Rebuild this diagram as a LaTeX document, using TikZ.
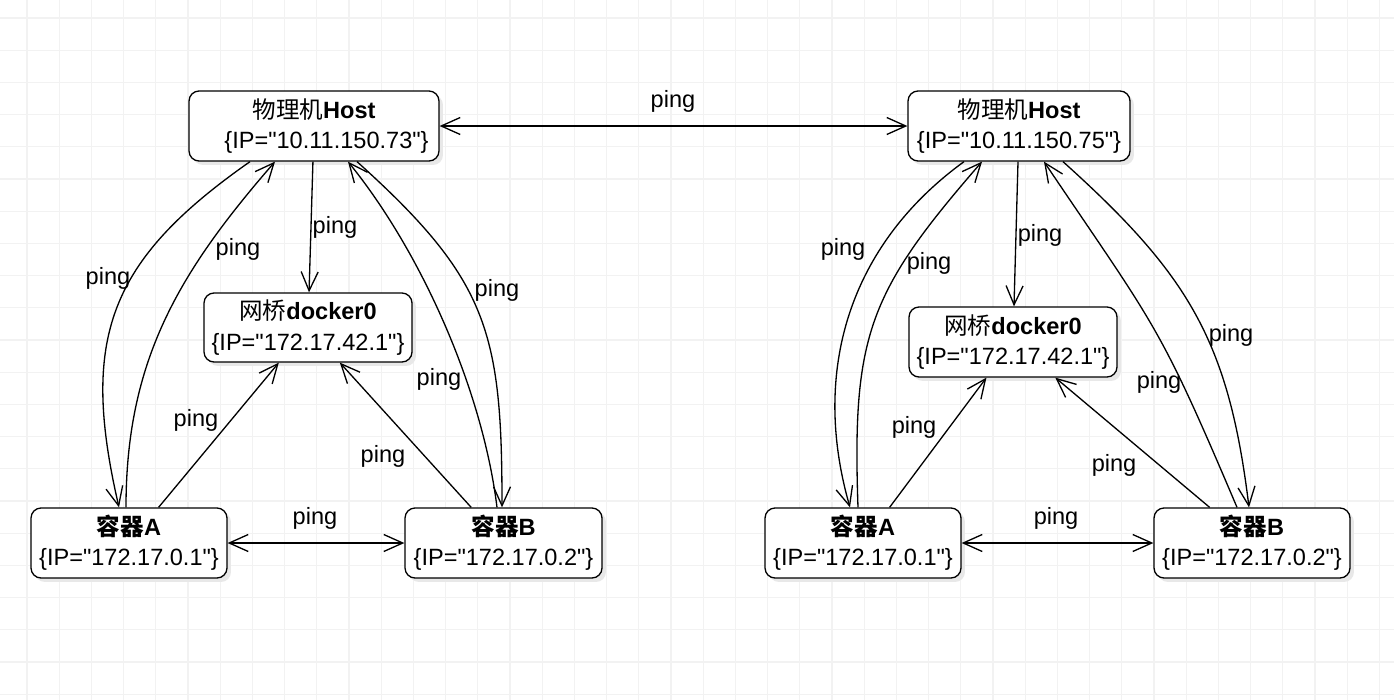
\documentclass[tikz,border=0pt]{standalone}
\usepackage{fontspec}
\setmainfont{Liberation Sans}[Ligatures=TeXOff]
\newfontfamily\cjk{Noto Sans CJK SC}
\usetikzlibrary{arrows.meta,shadows,calc}

\tikzset{
  box/.style={draw, rounded corners=0.2cm, fill=white, align=center, inner sep=0pt,
    minimum height=1.4cm, font=\fontsize{13.4pt}{17.2pt}\selectfont,
    drop shadow={shadow xshift=0.08cm, shadow yshift=-0.08cm, opacity=1, fill=black!9, draw=none}},
  lbl/.style={inner sep=0pt, font=\fontsize{13.4pt}{16.8pt}\selectfont},
  gridline/.style={draw=black!5, line width=0.6pt},
}

\begin{document}
\begin{tikzpicture}
  [x=0.02cm,y=0.02cm,line width=0.75pt,>={Straight Barb[length=0.38cm,width=0.34cm]}]

  \fill[white] (0,0) rectangle (1394,-700);
  \useasboundingbox (0,0) rectangle (1394,-700);
  \foreach \i in {1,...,43}
    \draw[gridline] ({-5.2+32.2*\i},0) -- ({-5.2+32.2*\i},-700);
  \foreach \k in {0,...,21}
    \draw[gridline] (0,{-18-32.2*\k}) -- (1394,{-18-32.2*\k});

  % left host
  \node[box, minimum width=5cm] (hL) at (314,-126) {{\cjk 物理机}\textbf{Host}\\\hspace*{0.5cm}\{IP="10.11.150.73"\}};
  \node[box, minimum width=4.16cm, minimum height=1.38cm] (dL) at (308,-327.5) {{\cjk 网桥}\textbf{docker0}\\\{IP="172.17.42.1"\}};
  \node[box, minimum width=3.92cm] (aL) at (129,-543) {\textbf{\cjk 容器}\textbf{A}\\\{IP="172.17.0.1"\}};
  \node[box, minimum width=3.94cm] (bL) at (503.5,-543) {\textbf{\cjk 容器}\textbf{B}\\\{IP="172.17.0.2"\}};

  % right host
  \node[box, minimum width=4.44cm] (hR) at (1019,-126) {{\cjk 物理机}\textbf{Host}\\\{IP="10.11.150.75"\}};
  \node[box, minimum width=4.16cm] (dR) at (1013,-342) {{\cjk 网桥}\textbf{docker0}\\\{IP="172.17.42.1"\}};
  \node[box, minimum width=3.92cm] (aR) at (863,-543) {\textbf{\cjk 容器}\textbf{A}\\\{IP="172.17.0.1"\}};
  \node[box, minimum width=3.92cm] (bR) at (1252,-543) {\textbf{\cjk 容器}\textbf{B}\\\{IP="172.17.0.2"\}};

  \path[<->] (hL) edge (hR);

  \path[->] (hL) edge (dL);
  \path[->] (aL) edge (dL);
  \path[->] (bL) edge (dL);
  \path[<->] (aL) edge (bL);
  \path[->] ($(hL.south)+(-64,0)$) edge[out=215,in=103,looseness=1.2] ($(aL.north)+(-10,0)$);
  \path[->] ($(aL.north)+(-3,0)$) edge[out=90,in=229] ($(hL.south)+(-39,0)$);
  \path[->] ($(hL.south)+(43,0)$) edge[out=-42,in=90,looseness=1.2] ($(bL.north)+(-1.5,0)$);
  \path[->] ($(bL.north)+(-6.5,0)$) edge[out=97,in=-51,looseness=0.8] ($(hL.south)+(34,0)$);

  \path[->] (hR) edge (dR);
  \path[->] (aR) edge (dR);
  \path[->] (bR) edge (dR);
  \path[<->] (aR) edge (bR);
  \path[->] ($(hR.south)+(-55,0)$) edge[out=216,in=106] ($(aR.north)+(-13,0)$);
  \path[->] ($(aR.north)+(-5,0)$) edge[out=92,in=229,looseness=1.2] ($(hR.south)+(-37,0)$);
  \path[->] ($(hR.south)+(44,0)$) edge[out=-42,in=97,looseness=1.1] ($(bR.north)+(-3,0)$);
  \path[->] ($(bR.north)+(-15,0)$) edge[out=113,in=-56,looseness=1.3] ($(hR.south)+(25,0)$);

  % edge labels
  \foreach \x/\y [count=\n] in {673/101,335/227,108/278,238/249,196/420,383/456,439/379,497/290,315/518,
      1040/235,843/249,929/263,914/427,1114/465,1159/382,1231/335,1056/518}
    \node[lbl] (ping\n) at (\x,-\y) {ping};

\end{tikzpicture}
\end{document}
